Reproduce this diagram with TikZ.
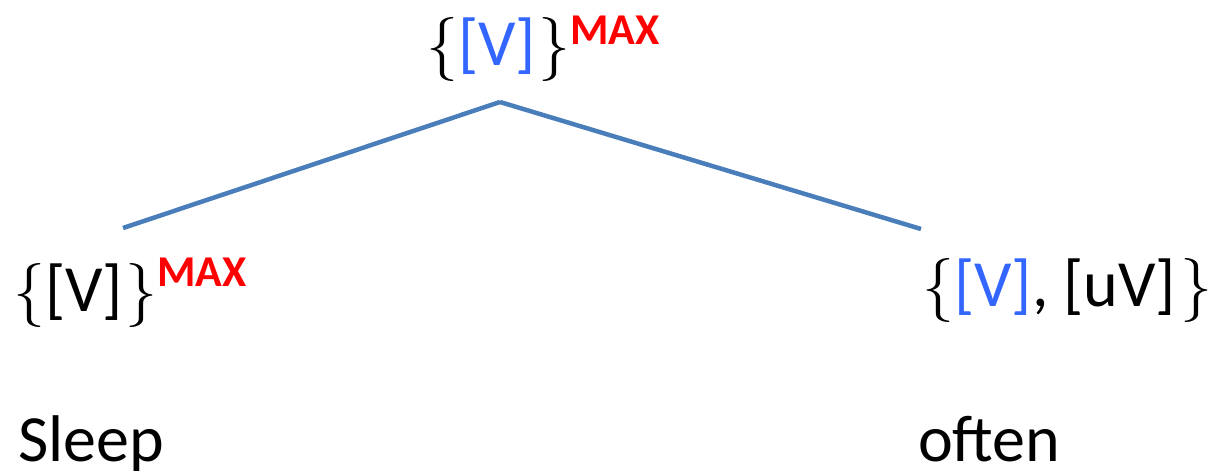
\documentclass[tikz,border=0pt]{standalone}
\usepackage{fontspec}
\setmainfont{Carlito}
\newfontfamily\bracefont{lmroman10-regular}[Extension=.otf]
\definecolor{vblue}{RGB}{51,102,255}
\definecolor{linec}{RGB}{74,126,187}
\definecolor{maxred}{RGB}{255,0,0}
\newcommand{\lb}{{\bracefont\fontsize{64}{64}\selectfont\{}}
\newcommand{\rb}{{\bracefont\fontsize{64}{64}\selectfont\}}}
\newcommand{\mx}[1]{\raisebox{#1}{\fontsize{44}{44}\selectfont\bfseries\color{maxred}MAX}}
\tikzset{
  lab/.style={inner sep=0pt, anchor=base west, font=\fontsize{66}{66}\selectfont},
  edge/.style={draw=linec, line width=4.5pt}
}
\begin{document}
\begin{tikzpicture}[x=1pt,y=-1pt]
\useasboundingbox (0,0) rectangle (1210,471);
\node[lab] (top) at (426,65) {\lb\hspace{0pt}{\color{vblue}[V]}\hspace{2pt}\rb\hspace{0pt}\mx{21pt}};
\node[lab] (left) at (13,311) {\lb\hspace{0pt}[V]\hspace{2pt}\rb\hspace{0pt}\mx{25pt}};
\node[lab] (right) at (922,306) {\lb\hspace{0pt}{\color{vblue}[V]}, [uV]\hspace{4pt}\rb};
\node[lab] (sleep) at (18,461) {Sleep};
\node[lab] (often) at (918,461) {often};
\coordinate (apex) at (500,102);
\coordinate (lend) at (123,228);
\coordinate (rend) at (921,229);
\draw[edge] (apex) -- (lend);
\draw[edge] (apex) -- (rend);
\end{tikzpicture}
\end{document}
